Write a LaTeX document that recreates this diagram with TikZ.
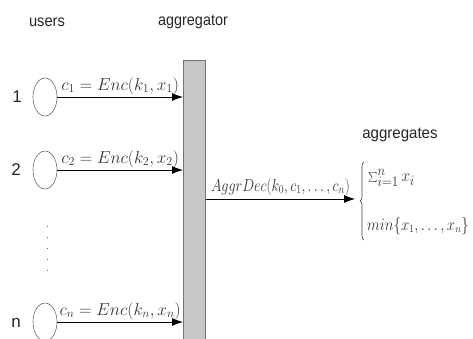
\documentclass[tikz,border=0pt]{standalone}
\usepackage{graphicx}
\usepackage{fontspec}
\setsansfont{Liberation Sans}
\usetikzlibrary{shapes.geometric,arrows.meta,decorations.pathreplacing}
\newcommand{\narrow}[2]{\scalebox{#1}[1]{#2}}
\begin{document}
\begin{tikzpicture}[x=1pt,y=1pt,
  lbl/.style={font=\sffamily\fontsize{16}{18}\selectfont, text=black!85, inner sep=0pt},
  num/.style={font=\sffamily\fontsize{17}{19}\selectfont, text=black!85, inner sep=0pt},
  eq/.style={font=\fontsize{17}{19}\selectfont, inner sep=1pt, text=black!80},
  user/.style={draw=black!60, line width=0.6pt, ellipse, minimum width=24pt, minimum height=38pt, inner sep=0pt},
  msg/.style={draw=black, line width=0.8pt, -{Latex[length=11pt,width=8pt]}},
  barstyle/.style={draw=black!55, fill=black!22, line width=0.8pt, minimum width=22pt, minimum height=280pt, inner sep=0pt, anchor=north west}
]
\useasboundingbox (0,0) rectangle (473,-338);
\node[lbl] (users) at (47,-22) {\narrow{0.92}{users}};
\node[lbl] (agglbl) at (193,-22) {\narrow{0.9}{aggregator}};
\node[barstyle] (bar) at (183,-60) {};

\node[user] (u1) at (45,-97) {};
\node[user] (u2) at (45,-170) {};
\node[user] (un) at (45,-322) {};
\node[num] (n1) at (17,-97) {1};
\node[num] (n2) at (16,-170) {2};
\node[num] (nn) at (16,-323) {n};

\draw[msg] (u1.east) -- (u1.east -| bar.west) node[eq, midway, above=1pt] (e1) {$c_1 = Enc(k_1, x_1)$};
\draw[msg] (u2.east) -- (u2.east -| bar.west) node[eq, midway, above=1pt] (e2) {$c_2 = Enc(k_2, x_2)$};
\draw[msg] (un.east) -- (un.east -| bar.west) node[eq, midway, above=1pt] (en) {$c_n = Enc(k_n, x_n)$};

\coordinate (dtop) at (47,-226);
\coordinate (dbot) at (47,-272);
\draw[black!60, line width=1pt, dash pattern=on 1pt off 10pt] (dtop) -- (dbot);

\coordinate (outend) at (355,-199);
\draw[msg] (outend -| bar.east) -- (outend) node[eq, midway, above=2pt] (dec) {\narrow{0.82}{$AggrDec(k_0, c_1, \ldots, c_n)$}};

\node[lbl] (aggs) at (400,-135) {\narrow{0.94}{aggregates}};
\coordinate (btop) at (364,-162);
\coordinate (bbot) at (364,-240);
\draw[black!75, line width=0.6pt, decorate, decoration={brace, amplitude=4pt, mirror}] (btop) -- (bbot);
\node[eq, font=\fontsize{19}{21}\selectfont, anchor=west, inner sep=0pt] (sum) at (368,-178) {\narrow{0.9}{$\sum_{i=1}^n x_i$}};
\node[eq, font=\fontsize{16}{18}\selectfont, anchor=west, inner sep=0pt] (min) at (367,-226) {\narrow{0.86}{$min\{x_1, \ldots, x_n\}$}};
\end{tikzpicture}
\end{document}
